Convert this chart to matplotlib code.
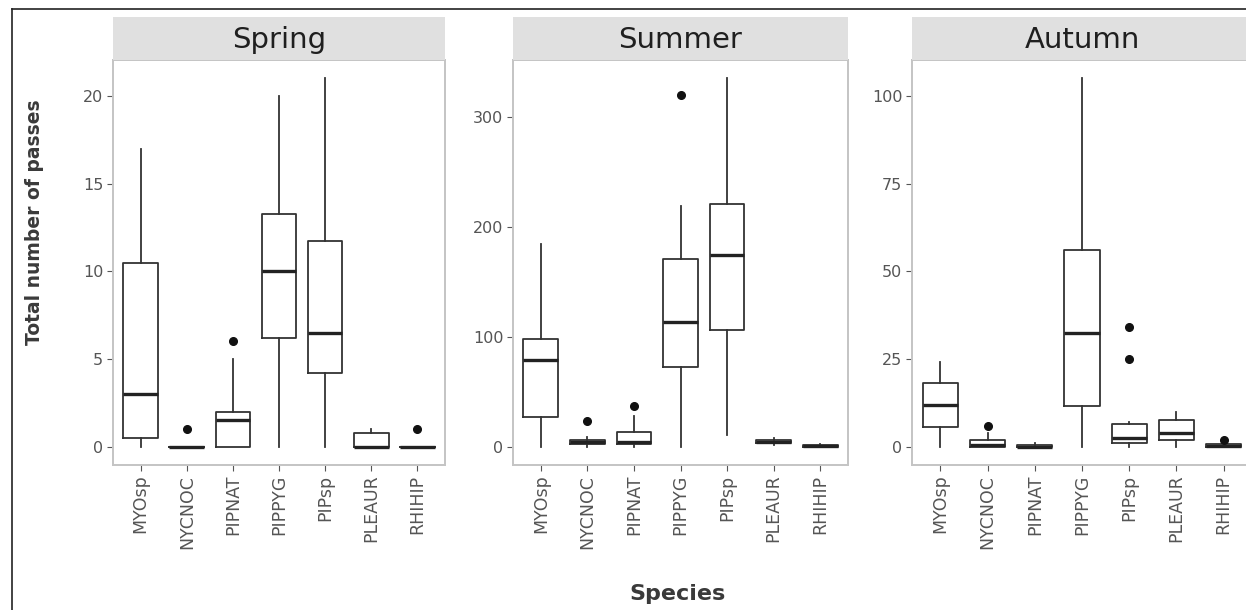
import matplotlib
matplotlib.use("Agg")
import matplotlib.pyplot as plt
from matplotlib.lines import Line2D
from matplotlib.patches import Rectangle

# ---------------- data ----------------
species = ["MYOsp", "NYCNOC", "PIPNAT", "PIPPYG", "PIPsp", "PLEAUR", "RHIHIP"]
seasons = ["Spring", "Summer", "Autumn"]

# per species: [whisker low, Q1, median, Q3, whisker high]
spring_stats = [
    [0, 0.5, 3, 10.5, 17],
    [0, 0, 0, 0, 0],
    [0, 0, 1.5, 2, 5],
    [0, 6.2, 10, 13.25, 20],
    [0, 4.2, 6.5, 11.75, 21],
    [0, 0, 0, 0.75, 1],
    [0, 0, 0, 0, 0],
]
spring_outliers = [[], [1], [6], [], [], [], [1]]

summer_stats = [
    [0, 27, 79, 98, 184],
    [0, 2, 4, 6, 9],
    [0, 2, 4, 13, 28],
    [0, 72, 113, 171, 219],
    [11, 106, 174, 221, 335],
    [1, 3, 4, 6, 8],
    [0, 0, 0.5, 1.5, 2.5],
]
summer_outliers = [[], [23], [37], [320], [], [], []]

autumn_stats = [
    [0, 5.7, 12, 18.2, 24],
    [0, 0, 0.5, 2, 4],
    [0, 0, 0, 0.5, 1],
    [0, 11.5, 32.5, 56, 105],
    [0, 1, 2.5, 6.5, 7],
    [0, 2, 4, 7.5, 10],
    [0, 0, 0.3, 0.8, 1],
]
autumn_outliers = [[], [6], [], [], [34, 25], [], [2]]

spring_ticks = [0, 5, 10, 15, 20]
summer_ticks = [0, 100, 200, 300]
autumn_ticks = [0, 25, 50, 75, 100]

y_title = "Total number of passes"
x_title = "Species"

# ---------------- figure ----------------
W, H = 1246, 610
fig = plt.figure(figsize=(W / 100, H / 100), dpi=100)
fig.patch.set_facecolor("white")

def fx(x):
    return x / W

def fy(y):
    return 1 - y / H

panels = [
    (113, 445, spring_stats, spring_outliers, spring_ticks, seasons[0]),
    (513, 848, summer_stats, summer_outliers, summer_ticks, seasons[1]),
    (912, 1252, autumn_stats, autumn_outliers, autumn_ticks, seasons[2]),
]
p_top, p_bot = 60, 465
s_top = 17

tick_col = "#555555"
border_col = "#c4c4c4"

for (x0, x1, stats, outl, ticks, title) in panels:
    ax = fig.add_axes([fx(x0), fy(p_bot), (x1 - x0) / W, (p_bot - p_top) / H])
    bxp_stats = []
    for s, o, name in zip(stats, outl, species):
        bxp_stats.append(dict(whislo=s[0], q1=s[1], med=s[2], q3=s[3],
                              whishi=s[4], fliers=o, label=name))
    ax.bxp(bxp_stats, positions=range(1, len(species) + 1), widths=0.75,
           showcaps=False, patch_artist=False,
           boxprops=dict(color="#333333", linewidth=1.3),
           whiskerprops=dict(color="#333333", linewidth=1.3),
           medianprops=dict(color="#222222", linewidth=2.4, solid_capstyle="butt"),
           flierprops=dict(marker="o", markerfacecolor="#111111",
                           markeredgecolor="#111111", markersize=5.5))
    top = max(max(s[4] for s in stats), max([v for o in outl for v in o] + [0]))
    rng = top - 0
    ax.set_ylim(-0.05 * rng, top + 0.05 * rng)
    ax.set_xlim(0.4, len(species) + 0.6)
    ax.set_yticks(ticks)
    ax.set_yticklabels([str(t) for t in ticks])
    ax.set_xticks(range(1, len(species) + 1))
    ax.set_xticklabels(species, rotation=90)
    ax.tick_params(axis="both", colors=tick_col, length=4, width=0.8,
                   labelcolor=tick_col, pad=3)
    ax.tick_params(axis="y", labelsize=11.5)
    ax.tick_params(axis="x", labelsize=12.5)
    for sp in ax.spines.values():
        sp.set_color(border_col)
        sp.set_linewidth(1.4)
    ax.set_facecolor("white")

    # strip
    sax = fig.add_axes([fx(x0), fy(p_top), (x1 - x0) / W, (p_top - s_top) / H])
    sax.set_facecolor("#e0e0e0")
    sax.set_xticks([])
    sax.set_yticks([])
    for sp in sax.spines.values():
        sp.set_visible(False)
    sax.text(0.5, 0.46 if x0 < 900 else 0.46, title, ha="center", va="center",
             fontsize=21, color="#1f1f1f", transform=sax.transAxes)

# axis titles
fig.text(fx(678), fy(594), x_title, ha="center", va="center",
         fontsize=16, fontweight="bold", color="#3a3a3a")
fig.text(fx(35), fy(222), y_title, ha="center", va="center", rotation=90,
         fontsize=13.5, fontweight="bold", color="#3a3a3a")

# outer frame lines (top and left)
fig.add_artist(Line2D([fx(12), 1.0], [fy(9), fy(9)], color="#222222", linewidth=1.2))
fig.add_artist(Line2D([fx(12), fx(12)], [fy(9), 0.0], color="#222222", linewidth=1.2))

fig.savefig("out.png", dpi=100, facecolor="white")
